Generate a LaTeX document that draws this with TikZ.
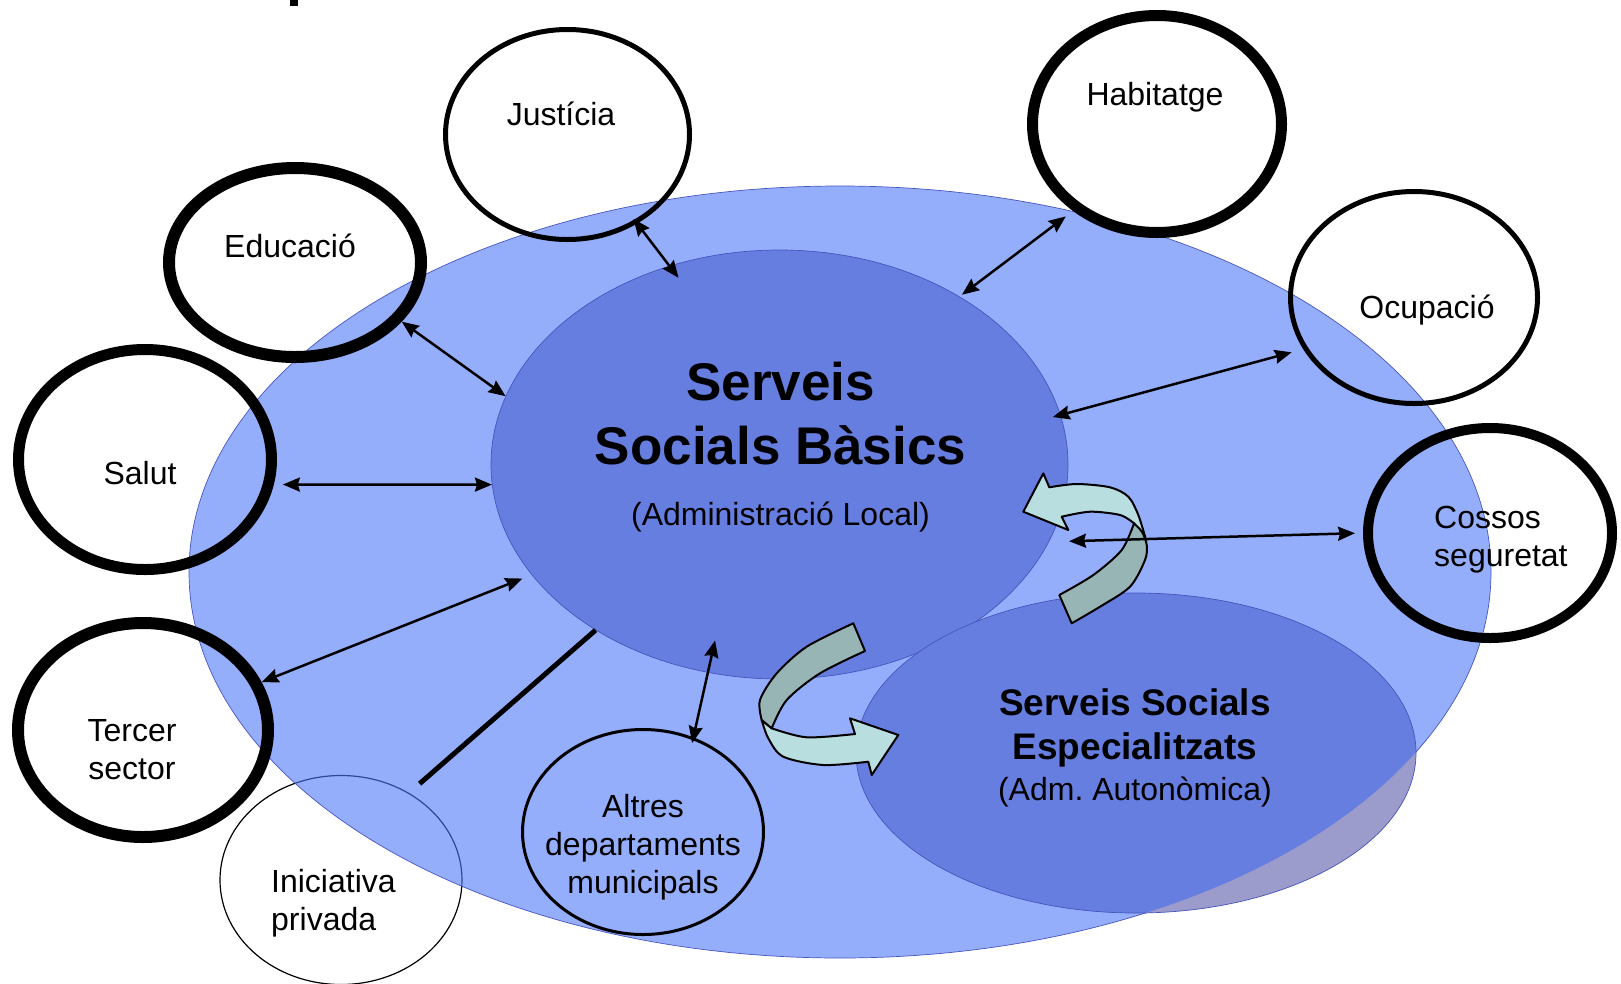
\documentclass[tikz,border=0pt]{standalone}
\usepackage{fontspec}
\setmainfont{Liberation Sans}
\usepackage{xcolor}
\usepackage{tikz}
\usetikzlibrary{shapes.geometric, arrows.meta, positioning}
\definecolor{outerblue}{RGB}{78,120,250}
\definecolor{basicblue}{RGB}{102,126,224}
\definecolor{specgrey}{RGB}{155,155,204}
\definecolor{edgeblue}{RGB}{70,85,190}
\definecolor{ribbonlight}{RGB}{184,222,224}
\definecolor{ribbondark}{RGB}{152,181,181}
\tikzset{
    area/.style={ellipse, inner sep=0pt, draw=edgeblue, line width=0.7pt},
    agent/.style={ellipse, inner sep=0pt, draw=black},
    caption/.style={inner sep=0pt, font=\fontsize{32}{38}\selectfont},
    ribbon/.style={draw=black, line width=2pt, line join=round}
}

\begin{document}
\begin{tikzpicture} [
    x=1pt, y=-1pt,
    link/.style={<->, line width=2.5pt, >={Stealth[length=17pt, width=14pt, inset=2pt]}},
    bar/.style={-, line width=5pt}
]
    \useasboundingbox (0,0) rectangle (1621,983);
    % cut title
    \fill (290,0) rectangle (298,6);

    % Iniciativa privada (under the outer area)
    \node[agent, line width=1.2pt, minimum width=242pt, minimum height=209pt] (iniciativa) at (341,880) {};

    % Outer area
    \node[area, fill=outerblue, fill opacity=0.6, minimum width=1302pt, minimum height=772pt] (entorn) at (840,572) {};

    % Serveis Socials Basics
    \node[area, fill=basicblue, minimum width=577pt, minimum height=429pt] (ssb) at (779.5,464.5) {};

    % Serveis Socials Especialitzats
    \fill[specgrey] (1136,753) ellipse [x radius=280, y radius=160];
    \begin{scope}
        \clip (entorn.center) ellipse [x radius=651, y radius=386];
        \fill[basicblue] (1136,753) ellipse [x radius=280, y radius=160];
    \end{scope}
    \node[area, minimum width=560pt, minimum height=320pt] (sse) at (1136,753) {};

    % Surrounding services
    \node[agent, line width=5pt, minimum width=244pt, minimum height=210pt] (justicia) at (567.5,134.5) {};
    \node[agent, line width=12pt, minimum width=252pt, minimum height=189pt] (educacio) at (295,262.5) {};
    \node[agent, line width=11pt, minimum width=253pt, minimum height=220pt] (salut) at (145,459.5) {};
    \node[agent, line width=12pt, minimum width=250pt, minimum height=214pt] (tercer) at (143,730) {};
    \node[agent, line width=3pt, minimum width=241pt, minimum height=205pt] (altres) at (643,832) {};
    \node[agent, line width=11pt, minimum width=249pt, minimum height=217pt] (habitatge) at (1157,124) {};
    \node[agent, line width=5pt, minimum width=247pt, minimum height=212pt] (ocupacio) at (1414,297.5) {};
    \node[agent, line width=10pt, minimum width=244pt, minimum height=210pt] (cossos) at (1490,533) {};

    % Texts
    \node[inner sep=0pt, align=center, font=\fontsize{53}{64}\selectfont\bfseries] (ssb_txt) at (780.5,413.5) {Serveis\\Socials Bàsics};
    \node[caption, anchor=base] (ssb_sub) at (780.5,525) {(Administració Local)};
    \node[inner sep=0pt, align=center, font=\fontsize{37}{44}\selectfont\bfseries] (sse_txt) at (1135,728.2) {Serveis Socials\\Especialitzats};
    \node[caption, anchor=base] (sse_sub) at (1135,800) {(Adm.\ Autonòmica)};
    \node[caption, anchor=base] (justicia_txt) at (561,125) {Justícia};
    \node[caption, anchor=base] (educacio_txt) at (290,257) {Educació};
    \node[caption, anchor=base] (salut_txt) at (140,484) {Salut};
    \node[caption, align=center] (tercer_txt) at (132,749.5) {Tercer\\sector};
    \node[caption, align=left, anchor=west] (iniciativa_txt) at (271,903.3) {Iniciativa\\privada};
    \node[caption, align=center] (altres_txt) at (643,846.9) {Altres\\departaments\\municipals};
    \node[caption, anchor=base] (habitatge_txt) at (1155,105.5) {Habitatge};
    \node[caption, anchor=base] (ocupacio_txt) at (1427,318) {Ocupació};
    \node[caption, align=left, anchor=west] (cossos_txt) at (1434,539.6) {Cossos\\seguretat};

    % Curved arrow basic -> specialised
    \filldraw[ribbon, fill=ribbonlight] plot[smooth] coordinates {(771.7,728.3) (806.7,737.3) (855,734)}
        -- (850,718.3) -- (898.3,735) -- (871.7,775) -- (868.3,761.7)
        -- plot[smooth] coordinates {(868.3,761.7) (823.3,765) (783.3,756.7) (768.3,738.3) (761.7,720)} -- cycle;
    \filldraw[ribbon, fill=ribbondark] plot[smooth] coordinates {(853.3,623.3) (806.7,646.7) (776.7,673.3) (760,700) (761.7,720)}
        -- (771.7,728.3)
        -- plot[smooth] coordinates {(771.7,728.3) (786.7,700) (820,673.3) (865,651)} -- cycle;

    % Curved arrow specialised -> basic
    \filldraw[ribbon, fill=ribbonlight] (1023.3,511.7) -- (1043.3,473.3) -- (1049.3,487.3)
        -- plot[smooth] coordinates {(1049.3,487.3) (1076.7,484) (1110,487.3) (1128.3,496.7) (1138.3,515) (1146,540)}
        -- (1134,523.3)
        -- plot[smooth] coordinates {(1134,523.3) (1120,515) (1090,511.7) (1061.7,516.7)}
        -- (1068.3,530) -- cycle;
    \filldraw[ribbon, fill=ribbondark] plot[smooth] coordinates {(1134,523.3) (1142,532) (1146.7,545) (1145,560) (1130,586.7) (1100,606.7) (1071.7,623.3)}
        -- (1059.3,595)
        -- plot[smooth] coordinates {(1059.3,595) (1093.3,575) (1121.7,550) (1134,523.3)} -- cycle;

    % Links
    \draw[link, shorten <=-6pt, shorten >=-15pt] (justicia.-52.8) -- (ssb.119.8);
    \draw[link, shorten <=9pt, shorten >=3pt] (habitatge.-134.4) -- (ssb.43.05);
    \draw[link] (educacio.-29.3) -- (ssb.166.1);
    \draw[link, shorten <=9pt] (salut.-11.75) -- (ssb.184.7);
    \draw[link, shorten >=10pt] (tercer.22.8) -- (ssb.-156.2);
    \draw[bar, shorten <=14pt] (iniciativa.52.2) -- (ssb.-138.2);
    \draw[link, shorten <=-6pt, shorten >=-33pt] (altres.62.4) -- (ssb.-109.2);
    \draw[link, shorten <=12pt, shorten >=-8pt] (ocupacio.-155.2) -- (ssb.10.5);
    \draw[link, shorten <=8pt, shorten >=20pt] (cossos.180) -- (ssb.-16.1);
\end{tikzpicture}
\end{document}
